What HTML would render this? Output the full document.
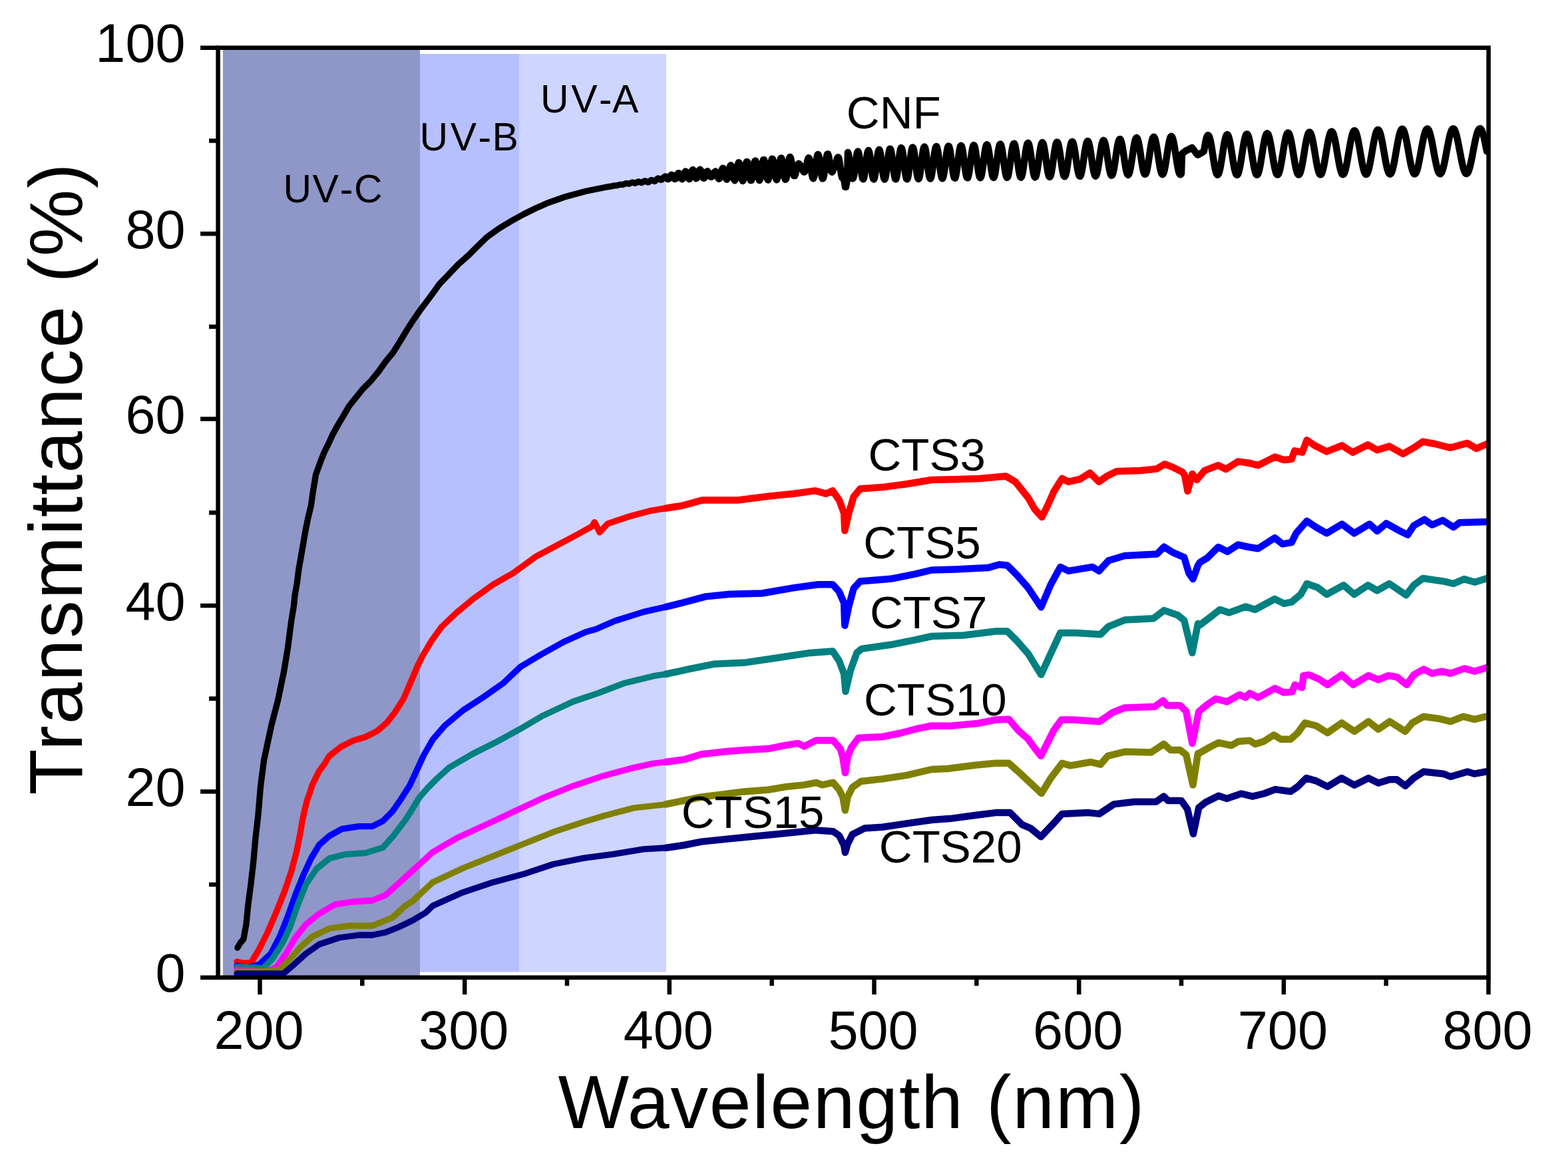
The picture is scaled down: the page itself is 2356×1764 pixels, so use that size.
<!DOCTYPE html><html><head><meta charset="utf-8"><style>html,body{margin:0;padding:0;background:#fff;}svg{display:block;}text{font-family:"Liberation Sans",Arial,sans-serif;fill:#000;}</style></head><body>
<svg width="2356" height="1764" viewBox="0 0 2356 1764">
<rect width="2356" height="1764" fill="#fff"/>
<rect x="335" y="75" width="296.0" height="1391.0" fill="#8F96C8"/>
<rect x="631" y="81" width="149.0" height="1379.5" fill="#B7C0FE"/>
<rect x="780" y="81" width="221.0" height="1379.5" fill="#CED5FE"/>
<path d="M356.9 1424.0 L361.0 1417.0 L365.9 1411.0 L369.9 1389.0 L372.9 1359.0 L376.9 1329.0 L380.9 1293.5 L383.9 1259.6 L387.8 1225.7 L391.7 1180.0 L396.6 1142.2 L408.0 1089.0 L417.5 1052.8 L426.5 1009.4 L432.5 973.2 L437.5 934.5 L441.5 910.0 L443.0 894.6 L446.4 875.3 L448.8 855.9 L452.2 836.6 L455.6 817.3 L458.9 798.0 L462.8 778.6 L467.4 759.6 L470.2 739.5 L474.6 712.8 L481.9 692.8 L487.2 679.5 L493.9 666.2 L499.2 654.3 L507.1 639.7 L515.1 626.4 L524.4 610.4 L535.0 597.1 L545.7 583.9 L557.6 571.9 L568.6 558.5 L579.6 543.0 L590.4 530.0 L601.3 512.6 L611.1 496.3 L620.9 481.1 L630.7 467.0 L640.4 453.9 L650.2 440.9 L660.5 426.5 L674.1 412.6 L688.3 397.5 L704.6 383.0 L715.0 372.5 L731.4 356.5 L749.5 343.5 L767.5 332.5 L785.6 322.5 L803.7 313.5 L821.8 305.4 L839.9 299.0 L850.0 295.4 L880.4 287.3 L913.0 280.8 L914.0 280.6 L915.0 280.4 L916.0 280.3 L917.0 280.2 L918.0 280.1 L919.0 279.9 L920.0 279.6 L921.0 279.3 L922.0 279.1 L923.0 278.9 L924.0 278.9 L925.0 278.9 L926.0 278.8 L927.0 278.7 L928.0 278.5 L929.0 278.1 L930.0 277.7 L931.0 277.4 L932.0 277.2 L933.0 277.3 L934.0 277.4 L935.0 277.5 L936.0 277.4 L937.0 277.1 L938.0 276.6 L939.0 276.1 L940.0 275.7 L941.0 275.5 L942.0 275.6 L943.0 275.8 L944.0 276.1 L945.0 276.1 L946.0 275.8 L947.0 275.3 L948.0 274.8 L949.0 274.3 L950.0 274.1 L951.0 274.2 L952.0 274.6 L953.0 275.0 L954.0 275.3 L955.0 275.2 L956.0 274.7 L957.0 274.1 L958.0 273.4 L959.0 273.0 L960.0 273.0 L961.0 273.4 L962.0 273.9 L963.0 274.4 L964.0 274.6 L965.0 274.3 L966.0 273.6 L967.0 272.8 L968.0 272.1 L969.0 271.8 L970.0 272.0 L971.0 272.6 L972.0 273.3 L973.0 273.8 L974.0 273.8 L975.0 273.3 L976.0 272.5 L977.0 271.5 L978.0 270.8 L979.0 270.5 L980.0 270.7 L981.0 271.3 L982.0 272.0 L983.0 272.4 L984.0 272.3 L985.0 271.5 L986.0 270.4 L987.0 269.1 L988.0 268.2 L989.0 267.9 L990.0 268.2 L991.0 269.0 L992.0 269.8 L993.0 270.3 L994.0 270.2 L995.0 269.4 L996.0 268.1 L997.0 266.7 L998.0 265.7 L999.0 265.3 L1000.0 265.6" fill="none" stroke="#000000" stroke-width="9.3" stroke-linejoin="round" stroke-linecap="round"/>
<path d="M1000.0 265.6 L1001.0 266.5 L1002.0 267.7 L1003.0 268.7 L1004.0 269.0 L1005.0 268.4 L1006.0 267.0 L1007.0 265.1 L1008.0 263.6 L1009.0 262.8 L1010.0 263.1 L1011.0 264.5 L1012.0 266.4 L1013.0 268.2 L1014.0 269.0 L1015.0 268.6 L1016.0 267.0 L1017.0 264.5 L1018.0 262.1 L1019.0 260.5 L1020.0 260.3 L1021.0 261.7 L1022.0 264.1 L1023.0 266.7 L1024.0 268.6 L1025.0 269.1 L1026.0 267.8 L1027.0 265.1 L1028.0 261.8 L1029.0 259.0 L1030.0 257.7 L1031.0 258.2 L1032.0 260.5 L1033.0 263.8 L1034.0 267.0 L1035.0 268.9 L1036.0 268.9 L1037.0 266.8 L1038.0 263.2 L1039.0 259.3 L1040.0 256.2 L1041.0 255.1 L1042.0 256.3 L1043.0 259.3 L1044.0 263.0 L1045.0 266.3 L1046.0 268.0 L1047.0 267.6 L1048.0 265.3 L1049.0 261.7 L1050.0 258.0 L1051.0 255.5 L1052.0 254.8 L1053.0 256.1 L1054.0 258.9 L1055.0 262.5 L1056.0 265.7 L1057.0 267.6 L1058.0 267.7 L1059.0 266.0 L1060.0 263.1 L1061.0 260.0 L1062.0 257.9 L1063.0 257.4 L1064.0 258.3 L1065.0 260.3 L1066.0 262.6 L1067.0 264.6 L1068.0 265.7 L1069.0 265.7 L1070.0 265.0 L1071.0 263.9 L1072.0 262.1 L1073.0 260.1 L1074.0 258.4 L1075.0 257.7 L1076.0 258.5 L1077.0 260.7 L1078.0 263.8 L1079.0 266.7 L1080.0 268.6 L1081.0 268.3 L1082.0 266.0 L1083.0 262.2 L1084.0 258.0 L1085.0 254.5 L1086.0 252.7 L1087.0 253.2 L1088.0 255.9 L1089.0 260.0 L1090.0 264.5 L1091.0 268.1 L1092.0 269.6 L1093.0 268.4 L1094.0 264.9 L1095.0 259.7 L1096.0 254.2 L1097.0 250.0 L1098.0 248.3 L1099.0 249.5 L1100.0 253.4 L1101.0 259.1 L1102.0 265.0 L1103.0 269.5 L1104.0 271.2 L1105.0 269.5 L1106.0 264.9 L1107.0 258.3 L1108.0 251.5 L1109.0 246.4 L1110.0 244.2 L1111.0 245.9 L1112.0 250.8 L1113.0 257.6 L1114.0 264.5 L1115.0 269.7 L1116.0 271.9 L1117.0 270.4 L1118.0 265.7 L1119.0 258.8 L1120.0 251.6 L1121.0 245.8 L1122.0 242.9 L1123.0 243.7 L1124.0 247.8 L1125.0 254.3 L1126.0 261.5 L1127.0 267.6 L1128.0 271.0 L1129.0 270.9 L1130.0 267.2 L1131.0 260.9 L1132.0 253.5 L1133.0 246.8 L1134.0 242.4 L1135.0 241.4 L1136.0 244.0 L1137.0 249.5 L1138.0 256.7 L1139.0 263.7 L1140.0 268.8 L1141.0 270.9 L1142.0 269.3 L1143.0 264.4 L1144.0 257.4 L1145.0 250.0 L1146.0 243.7 L1147.0 240.2 L1148.0 240.3 L1149.0 243.8 L1150.0 250.0 L1151.0 257.4 L1152.0 264.2 L1153.0 268.9 L1154.0 270.4 L1155.0 268.2 L1156.0 263.0 L1157.0 255.8 L1158.0 248.2 L1159.0 242.1 L1160.0 238.8 L1161.0 239.0 L1162.0 242.7 L1163.0 249.0 L1164.0 256.5 L1165.0 263.5 L1166.0 268.4 L1167.0 270.2 L1168.0 268.3 L1169.0 263.2 L1170.0 256.1 L1171.0 248.4 L1172.0 241.9 L1173.0 237.9 L1174.0 237.4 L1175.0 240.4 L1176.0 246.3 L1177.0 253.7 L1178.0 261.1 L1179.0 266.9 L1180.0 269.7 L1181.0 269.0 L1182.0 264.9 L1183.0 258.3 L1184.0 250.5 L1185.0 243.2 L1186.0 238.0 L1187.0 235.8 L1188.0 237.3 L1189.0 242.5 L1190.0 249.3 L1191.0 256.0 L1192.0 261.2 L1193.0 264.0 L1194.0 264.1 L1195.0 261.8 L1196.0 258.0 L1197.0 253.6 L1198.0 249.7 L1199.0 247.0 L1200.0 245.9 L1201.0 246.3 L1202.0 247.8 L1203.0 249.7 L1204.0 251.4 L1205.0 253.0 L1206.0 255.2 L1207.0 257.2 L1208.0 258.5 L1209.0 258.2 L1210.0 256.2 L1211.0 252.5 L1212.0 247.7 L1213.0 242.8 L1214.0 238.9 L1215.0 237.2 L1216.0 238.2 L1217.0 242.2 L1218.0 248.5 L1219.0 256.0 L1220.0 262.5 L1221.0 266.8 L1222.0 268.2 L1223.0 266.1 L1224.0 261.1 L1225.0 254.0 L1226.0 246.1 L1227.0 239.0 L1228.0 233.9 L1229.0 231.9 L1230.0 233.3 L1231.0 237.9 L1232.0 244.9 L1233.0 252.9 L1234.0 260.5 L1235.0 266.0 L1236.0 268.5 L1237.0 267.6 L1238.0 263.5 L1239.0 256.9 L1240.0 249.0 L1241.0 241.3 L1242.0 235.2 L1243.0 231.7 L1244.0 231.5 L1245.0 234.4 L1246.0 240.0 L1247.0 247.3 L1248.0 253.5 L1249.0 257.4 L1250.0 258.6 L1251.0 257.6 L1252.0 255.1 L1253.0 252.1 L1254.0 249.8 L1255.0 248.3 L1256.0 245.2 L1257.0 241.4 L1258.0 238.0 L1259.0 236.2 L1260.0 236.9 L1261.0 240.7 L1262.0 247.3 L1263.0 255.1 L1264.0 261.8 L1265.0 266.4 L1266.0 267.9 L1267.0 266.2 L1268.0 269.0 L1269.0 275.0 L1270.0 281.0 L1271.0 281.0 L1272.0 275.0 L1273.0 269.0 L1274.0 229.0 L1275.0 231.9 L1276.0 237.6 L1277.0 245.1 L1278.0 253.2 L1279.0 260.6 L1280.0 266.0 L1281.0 268.5 L1282.0 267.8 L1283.0 263.9 L1284.0 257.4 L1285.0 249.5 L1286.0 241.3 L1287.0 234.2 L1288.0 229.3 L1289.0 227.4 L1290.0 228.9 L1291.0 233.4 L1292.0 240.4 L1293.0 248.5 L1294.0 256.7 L1295.0 263.6 L1296.0 268.0 L1297.0 269.3 L1298.0 267.3 L1299.0 262.3 L1300.0 255.0 L1301.0 246.6 L1302.0 238.4 L1303.0 231.6 L1304.0 227.3 L1305.0 226.1 L1306.0 228.3 L1307.0 233.5 L1308.0 240.8 L1309.0 249.2 L1310.0 257.4 L1311.0 264.1 L1312.0 268.3 L1313.0 269.5 L1314.0 267.3 L1315.0 262.1 L1316.0 254.7 L1317.0 246.2 L1318.0 237.8 L1319.0 230.8 L1320.0 226.3 L1321.0 224.8 L1322.0 226.5 L1323.0 231.3 L1324.0 238.5 L1325.0 246.8 L1326.0 255.3 L1327.0 262.5 L1328.0 267.5 L1329.0 269.5 L1330.0 268.2 L1331.0 263.9 L1332.0 257.0 L1333.0 248.7 L1334.0 240.1 L1335.0 232.3 L1336.0 226.6 L1337.0 223.7 L1338.0 223.9 L1339.0 227.4 L1340.0 233.5 L1341.0 241.5 L1342.0 250.1 L1343.0 258.2 L1344.0 264.7 L1345.0 268.6 L1346.0 269.4 L1347.0 267.0 L1348.0 261.7 L1349.0 254.2 L1350.0 245.6 L1351.0 237.0 L1352.0 229.6 L1353.0 224.4 L1354.0 222.1 L1355.0 223.0 L1356.0 226.9 L1357.0 233.4 L1358.0 241.6 L1359.0 250.3 L1360.0 258.4 L1361.0 264.8 L1362.0 268.6 L1363.0 269.3 L1364.0 266.9 L1365.0 261.7 L1366.0 254.3 L1367.0 245.7 L1368.0 237.1 L1369.0 229.6 L1370.0 224.1 L1371.0 221.4 L1372.0 221.7 L1373.0 225.1 L1374.0 231.1 L1375.0 238.8 L1376.0 247.4 L1377.0 255.7 L1378.0 262.6 L1379.0 267.2 L1380.0 269.0 L1381.0 267.8 L1382.0 263.7 L1383.0 257.2 L1384.0 249.2 L1385.0 240.6 L1386.0 232.5 L1387.0 226.0 L1388.0 221.9 L1389.0 220.5 L1390.0 222.2 L1391.0 226.7 L1392.0 233.3 L1393.0 241.4 L1394.0 249.8 L1395.0 257.6 L1396.0 263.8 L1397.0 267.6 L1398.0 268.6 L1399.0 266.7 L1400.0 262.1 L1401.0 255.4 L1402.0 247.3 L1403.0 238.9 L1404.0 231.1 L1405.0 224.9 L1406.0 221.1 L1407.0 220.0 L1408.0 221.7 L1409.0 226.1 L1410.0 232.7 L1411.0 240.6 L1412.0 248.8 L1413.0 256.6 L1414.0 262.8 L1415.0 266.9 L1416.0 268.3 L1417.0 266.8 L1418.0 262.7 L1419.0 256.5 L1420.0 248.8 L1421.0 240.5 L1422.0 232.6 L1423.0 226.0 L1424.0 221.4 L1425.0 219.4 L1426.0 220.1 L1427.0 223.5 L1428.0 229.2 L1429.0 236.5 L1430.0 244.6 L1431.0 252.5 L1432.0 259.5 L1433.0 264.6 L1434.0 267.4 L1435.0 267.6 L1436.0 265.0 L1437.0 260.1 L1438.0 253.3 L1439.0 245.4 L1440.0 237.3 L1441.0 229.9 L1442.0 223.9 L1443.0 220.0 L1444.0 218.7 L1445.0 220.0 L1446.0 223.8 L1447.0 229.8 L1448.0 237.1 L1449.0 245.1 L1450.0 252.8 L1451.0 259.5 L1452.0 264.5 L1453.0 267.1 L1454.0 267.2 L1455.0 264.7 L1456.0 259.9 L1457.0 253.3 L1458.0 245.6 L1459.0 237.6 L1460.0 230.1 L1461.0 224.0 L1462.0 219.8 L1463.0 218.0 L1464.0 218.8 L1465.0 222.0 L1466.0 227.4 L1467.0 234.3 L1468.0 242.1 L1469.0 249.9 L1470.0 257.0 L1471.0 262.6 L1472.0 266.1 L1473.0 267.3 L1474.0 265.9 L1475.0 262.1 L1476.0 256.4 L1477.0 249.2 L1478.0 241.3 L1479.0 233.6 L1480.0 226.7 L1481.0 221.3 L1482.0 218.1 L1483.0 217.2 L1484.0 218.8 L1485.0 222.7 L1486.0 228.6 L1487.0 235.7 L1488.0 243.5 L1489.0 251.2 L1490.0 257.9 L1491.0 263.1 L1492.0 266.2 L1493.0 267.0 L1494.0 265.4 L1495.0 261.5 L1496.0 255.7 L1497.0 248.5 L1498.0 240.8 L1499.0 233.1 L1500.0 226.2 L1501.0 220.9 L1502.0 217.5 L1503.0 216.4 L1504.0 217.7 L1505.0 221.3 L1506.0 226.7 L1507.0 233.6 L1508.0 241.3 L1509.0 248.9 L1510.0 255.9 L1511.0 261.5 L1512.0 265.3 L1513.0 266.8 L1514.0 266.0 L1515.0 263.0 L1516.0 257.9 L1517.0 251.4 L1518.0 243.9 L1519.0 236.1 L1520.0 228.9 L1521.0 222.7 L1522.0 218.3 L1523.0 215.9 L1524.0 215.8 L1525.0 218.0 L1526.0 222.3 L1527.0 228.2 L1528.0 235.3 L1529.0 243.0 L1530.0 250.4 L1531.0 257.0 L1532.0 262.2 L1533.0 265.5 L1534.0 266.7 L1535.0 265.5 L1536.0 262.2 L1537.0 257.0 L1538.0 250.4 L1539.0 243.0 L1540.0 235.3 L1541.0 228.2 L1542.0 222.1 L1543.0 217.6 L1544.0 215.2 L1545.0 214.9 L1546.0 216.8 L1547.0 220.8 L1548.0 226.5 L1549.0 233.3 L1550.0 240.8 L1551.0 248.3 L1552.0 255.1 L1553.0 260.6 L1554.0 264.5 L1555.0 266.3 L1556.0 265.9 L1557.0 263.4 L1558.0 258.9 L1559.0 252.9 L1560.0 245.9 L1561.0 238.4 L1562.0 231.0 L1563.0 224.4 L1564.0 219.1 L1565.0 215.6 L1566.0 214.1 L1567.0 214.7 L1568.0 217.4 L1569.0 221.9 L1570.0 227.9 L1571.0 234.9 L1572.0 242.3 L1573.0 249.5 L1574.0 255.9 L1575.0 261.1 L1576.0 264.5 L1577.0 265.9 L1578.0 265.3 L1579.0 262.6 L1580.0 258.1 L1581.0 252.1 L1582.0 245.2 L1583.0 237.8 L1584.0 230.6 L1585.0 224.1 L1586.0 218.8 L1587.0 215.2 L1588.0 213.5 L1589.0 213.8 L1590.0 216.1 L1591.0 220.2 L1592.0 225.9 L1593.0 232.5 L1594.0 239.8 L1595.0 246.9 L1596.0 253.5 L1597.0 259.0 L1598.0 263.0 L1599.0 265.2 L1600.0 265.3 L1601.0 263.5 L1602.0 259.9 L1603.0 254.7 L1604.0 248.3 L1605.0 241.2 L1606.0 234.0 L1607.0 227.2 L1608.0 221.2 L1609.0 216.6 L1610.0 213.7 L1611.0 212.7 L1612.0 213.6 L1613.0 216.4 L1614.0 220.8 L1615.0 226.6 L1616.0 233.3 L1617.0 240.4 L1618.0 247.4 L1619.0 253.7 L1620.0 259.0 L1621.0 262.7 L1622.0 264.7 L1623.0 264.9 L1624.0 263.1 L1625.0 259.6 L1626.0 254.5 L1627.0 248.3 L1628.0 241.4 L1629.0 234.3 L1630.0 227.6 L1631.0 221.6 L1632.0 216.8 L1633.0 213.5 L1634.0 212.1 L1635.0 212.4 L1636.0 214.7 L1637.0 218.5 L1638.0 223.8 L1639.0 230.1 L1640.0 237.0 L1641.0 243.9 L1642.0 250.4 L1643.0 256.1 L1644.0 260.6 L1645.0 263.4 L1646.0 264.6 L1647.0 263.9 L1648.0 261.4 L1649.0 257.3 L1650.0 251.9 L1651.0 245.6 L1652.0 238.7 L1653.0 231.7 L1654.0 225.2 L1655.0 219.5 L1656.0 215.0 L1657.0 212.1 L1658.0 210.9 L1659.0 211.5 L1660.0 213.8 L1661.0 217.7 L1662.0 222.9 L1663.0 229.1 L1664.0 235.9 L1665.0 242.7 L1666.0 249.2 L1667.0 254.8 L1668.0 259.3 L1669.0 262.4 L1670.0 263.7 L1671.0 263.3 L1672.0 261.2 L1673.0 257.4 L1674.0 252.3 L1675.0 246.2 L1676.0 239.5 L1677.0 232.5 L1678.0 225.9 L1679.0 219.8 L1680.0 214.9 L1681.0 211.3 L1682.0 209.3 L1683.0 209.0 L1684.0 210.5 L1685.0 213.6 L1686.0 218.1 L1687.0 223.7 L1688.0 230.2 L1689.0 236.9 L1690.0 243.7 L1691.0 249.9 L1692.0 255.2 L1693.0 259.3 L1694.0 261.9 L1695.0 262.9 L1696.0 262.1 L1697.0 259.7 L1698.0 255.8 L1699.0 250.6 L1700.0 244.5 L1701.0 237.7 L1702.0 230.9 L1703.0 224.2 L1704.0 218.2 L1705.0 213.3 L1706.0 209.6 L1707.0 207.5 L1708.0 207.0 L1709.0 208.2 L1710.0 211.0 L1711.0 215.3 L1712.0 220.6 L1713.0 226.9 L1714.0 233.6 L1715.0 240.3 L1716.0 246.7 L1717.0 252.3 L1718.0 256.9 L1719.0 260.1 L1720.0 261.8 L1721.0 261.8 L1722.0 260.3 L1723.0 257.2 L1724.0 252.7 L1725.0 247.1 L1726.0 240.7 L1727.0 234.0 L1728.0 227.2 L1729.0 220.9 L1730.0 215.2 L1731.0 210.7 L1732.0 207.5 L1733.0 205.8 L1734.0 205.8 L1735.0 207.3 L1736.0 210.4 L1737.0 214.8 L1738.0 220.3 L1739.0 226.6 L1740.0 233.2 L1741.0 240.0 L1742.0 246.3 L1743.0 252.0 L1744.0 256.6 L1745.0 260.0 L1746.0 261.8 L1747.0 262.1 L1748.0 260.8 L1749.0 258.0 L1750.0 253.8 L1751.0 248.5 L1752.0 242.4 L1753.0 235.8 L1754.0 229.1 L1755.0 222.6 L1756.0 216.7 L1757.0 211.7 L1758.0 208.0 L1759.0 205.6 L1760.0 204.8 L1761.0 205.5 L1762.0 207.8 L1763.0 211.4 L1764.0 216.3 L1765.0 222.1 L1766.0 228.5 L1767.0 235.2 L1768.0 241.7 L1769.0 247.9 L1770.0 253.3 L1771.0 257.6 L1772.0 260.6 L1773.0 262.2 L1774.0 262.2 L1775.0 260.8 L1776.0 231.0 L1777.0 230.2 L1778.0 229.4 L1779.0 228.6 L1780.0 227.8 L1781.0 227.0 L1782.0 226.5 L1783.0 226.0 L1784.0 225.5 L1785.0 225.0 L1786.0 224.5 L1787.0 224.0 L1788.0 223.5 L1789.0 223.0 L1790.0 222.5 L1791.0 222.0 L1792.0 223.3 L1793.0 224.6 L1794.0 225.8 L1795.0 227.1 L1796.0 228.4 L1797.0 229.7 L1798.0 231.0 L1799.0 232.2 L1800.0 232.8 L1801.0 232.2 L1802.0 231.6 L1803.0 231.0 L1804.0 230.4 L1805.0 229.8 L1806.0 229.2 L1807.0 228.6 L1808.0 228.0 L1809.0 227.3 L1810.0 221.0 L1811.0 215.2 L1812.0 210.4 L1813.0 206.6 L1814.0 204.2 L1815.0 203.1 L1816.0 203.5 L1817.0 205.4 L1818.0 208.5 L1819.0 212.9 L1820.0 218.2 L1821.0 224.3 L1822.0 230.7 L1823.0 237.3 L1824.0 243.7 L1825.0 249.5 L1826.0 254.5 L1827.0 258.5 L1828.0 261.3 L1829.0 262.7 L1830.0 262.7 L1831.0 261.2 L1832.0 258.4 L1833.0 254.4 L1834.0 249.4 L1835.0 243.5 L1836.0 237.2 L1837.0 230.7 L1838.0 224.2 L1839.0 218.1 L1840.0 212.7 L1841.0 208.3 L1842.0 204.9 L1843.0 202.9 L1844.0 202.2 L1845.0 202.9 L1846.0 205.0 L1847.0 208.4 L1848.0 212.8 L1849.0 218.2 L1850.0 224.3 L1851.0 230.7 L1852.0 237.2 L1853.0 243.4 L1854.0 249.2 L1855.0 254.2 L1856.0 258.3 L1857.0 261.1 L1858.0 262.7 L1859.0 262.9 L1860.0 261.7 L1861.0 259.2 L1862.0 255.5 L1863.0 250.8 L1864.0 245.3 L1865.0 239.1 L1866.0 232.7 L1867.0 226.2 L1868.0 220.0 L1869.0 214.4 L1870.0 209.5 L1871.0 205.7 L1872.0 202.9 L1873.0 201.5 L1874.0 201.4 L1875.0 202.7 L1876.0 205.2 L1877.0 208.9 L1878.0 213.6 L1879.0 219.1 L1880.0 225.2 L1881.0 231.5 L1882.0 237.9 L1883.0 244.0 L1884.0 249.6 L1885.0 254.4 L1886.0 258.3 L1887.0 261.1 L1888.0 262.6 L1889.0 262.8 L1890.0 261.7 L1891.0 259.3 L1892.0 255.8 L1893.0 251.2 L1894.0 245.9 L1895.0 239.9 L1896.0 233.6 L1897.0 227.2 L1898.0 221.0 L1899.0 215.3 L1900.0 210.2 L1901.0 206.1 L1902.0 203.0 L1903.0 201.0 L1904.0 200.4 L1905.0 201.0 L1906.0 202.9 L1907.0 206.0 L1908.0 210.1 L1909.0 215.1 L1910.0 220.7 L1911.0 226.8 L1912.0 233.1 L1913.0 239.4 L1914.0 245.3 L1915.0 250.6 L1916.0 255.2 L1917.0 258.8 L1918.0 261.3 L1919.0 262.6 L1920.0 262.6 L1921.0 261.4 L1922.0 259.0 L1923.0 255.5 L1924.0 251.0 L1925.0 245.8 L1926.0 239.9 L1927.0 233.8 L1928.0 227.5 L1929.0 221.3 L1930.0 215.6 L1931.0 210.5 L1932.0 206.1 L1933.0 202.8 L1934.0 200.6 L1935.0 199.5 L1936.0 199.7 L1937.0 201.1 L1938.0 203.7 L1939.0 207.3 L1940.0 211.8 L1941.0 217.1 L1942.0 222.9 L1943.0 229.0 L1944.0 235.2 L1945.0 241.3 L1946.0 246.9 L1947.0 251.9 L1948.0 256.1 L1949.0 259.4 L1950.0 261.6 L1951.0 262.6 L1952.0 262.4 L1953.0 261.0 L1954.0 258.5 L1955.0 254.9 L1956.0 250.5 L1957.0 245.3 L1958.0 239.5 L1959.0 233.4 L1960.0 227.2 L1961.0 221.2 L1962.0 215.5 L1963.0 210.3 L1964.0 205.9 L1965.0 202.5 L1966.0 200.0 L1967.0 198.7 L1968.0 198.6 L1969.0 199.6 L1970.0 201.7 L1971.0 204.9 L1972.0 209.1 L1973.0 214.0 L1974.0 219.5 L1975.0 225.4 L1976.0 231.5 L1977.0 237.5 L1978.0 243.3 L1979.0 248.7 L1980.0 253.3 L1981.0 257.2 L1982.0 260.0 L1983.0 261.9 L1984.0 262.5 L1985.0 262.1 L1986.0 260.5 L1987.0 257.8 L1988.0 254.2 L1989.0 249.7 L1990.0 244.5 L1991.0 238.8 L1992.0 232.9 L1993.0 226.8 L1994.0 220.8 L1995.0 215.2 L1996.0 210.0 L1997.0 205.6 L1998.0 202.1 L1999.0 199.5 L2000.0 197.9 L2001.0 197.5 L2002.0 198.2 L2003.0 199.9 L2004.0 202.8 L2005.0 206.5 L2006.0 211.0 L2007.0 216.2 L2008.0 221.9 L2009.0 227.8 L2010.0 233.8 L2011.0 239.7 L2012.0 245.2 L2013.0 250.2 L2014.0 254.5 L2015.0 258.0 L2016.0 260.5 L2017.0 262.0 L2018.0 262.3 L2019.0 261.6 L2020.0 259.9 L2021.0 257.1 L2022.0 253.4 L2023.0 248.9 L2024.0 243.7 L2025.0 238.1 L2026.0 232.2 L2027.0 226.2 L2028.0 220.3 L2029.0 214.7 L2030.0 209.6 L2031.0 205.1 L2032.0 201.4 L2033.0 198.7 L2034.0 196.9 L2035.0 196.2 L2036.0 196.5 L2037.0 197.9 L2038.0 200.4 L2039.0 203.7 L2040.0 207.9 L2041.0 212.8 L2042.0 218.1 L2043.0 223.9 L2044.0 229.8 L2045.0 235.6 L2046.0 241.3 L2047.0 246.6 L2048.0 251.3 L2049.0 255.3 L2050.0 258.4 L2051.0 260.6 L2052.0 261.8 L2053.0 262.0 L2054.0 261.1 L2055.0 259.3 L2056.0 256.4 L2057.0 252.7 L2058.0 248.2 L2059.0 243.1 L2060.0 237.6 L2061.0 231.8 L2062.0 225.9 L2063.0 220.1 L2064.0 214.5 L2065.0 209.4 L2066.0 204.8 L2067.0 201.0 L2068.0 198.0 L2069.0 196.0 L2070.0 195.0 L2071.0 194.9 L2072.0 195.9 L2073.0 197.9 L2074.0 200.8 L2075.0 204.6 L2076.0 209.0 L2077.0 214.1 L2078.0 219.6 L2079.0 225.3 L2080.0 231.1 L2081.0 236.8 L2082.0 242.3 L2083.0 247.4 L2084.0 251.8 L2085.0 255.6 L2086.0 258.5 L2087.0 260.6 L2088.0 261.6 L2089.0 261.7 L2090.0 260.8 L2091.0 258.9 L2092.0 256.1 L2093.0 252.4 L2094.0 248.1 L2095.0 243.1 L2096.0 237.7 L2097.0 232.0 L2098.0 226.2 L2099.0 220.4 L2100.0 214.9 L2101.0 209.7 L2102.0 205.1 L2103.0 201.1 L2104.0 197.9 L2105.0 195.5 L2106.0 194.1 L2107.0 193.7 L2108.0 194.2 L2109.0 195.7 L2110.0 198.1 L2111.0 201.3 L2112.0 205.3 L2113.0 209.9 L2114.0 215.0 L2115.0 220.5 L2116.0 226.1 L2117.0 231.8 L2118.0 237.4 L2119.0 242.7 L2120.0 247.6 L2121.0 251.9 L2122.0 255.5 L2123.0 258.3 L2124.0 260.3 L2125.0 261.4 L2126.0 261.5 L2127.0 260.7 L2128.0 259.0 L2129.0 256.3 L2130.0 253.0 L2131.0 248.9 L2132.0 244.2 L2133.0 239.0 L2134.0 233.6 L2135.0 228.0 L2136.0 222.4 L2137.0 216.9 L2138.0 211.7 L2139.0 207.0 L2140.0 202.8 L2141.0 199.3 L2142.0 196.6 L2143.0 194.7 L2144.0 193.7 L2145.0 193.5 L2146.0 194.3 L2147.0 196.0 L2148.0 198.6 L2149.0 201.9 L2150.0 205.9 L2151.0 210.4 L2152.0 215.4 L2153.0 220.7 L2154.0 226.2 L2155.0 231.8 L2156.0 237.2 L2157.0 242.3 L2158.0 247.0 L2159.0 251.3 L2160.0 254.9 L2161.0 257.7 L2162.0 259.8 L2163.0 261.0 L2164.0 261.4 L2165.0 260.8 L2166.0 259.4 L2167.0 257.2 L2168.0 254.2 L2169.0 250.5 L2170.0 246.2 L2171.0 241.4 L2172.0 236.3 L2173.0 230.9 L2174.0 225.5 L2175.0 220.1 L2176.0 214.9 L2177.0 210.0 L2178.0 205.5 L2179.0 201.7 L2180.0 198.4 L2181.0 195.9 L2182.0 194.3 L2183.0 193.4 L2184.0 193.4 L2185.0 194.2 L2186.0 195.9 L2187.0 198.4 L2188.0 201.6 L2189.0 205.4 L2190.0 209.8 L2191.0 214.6 L2192.0 219.7 L2193.0 225.0 L2194.0 230.3 L2195.0 235.6 L2196.0 240.6 L2197.0 245.4 L2198.0 249.6 L2199.0 253.4 L2200.0 256.4 L2201.0 258.8 L2202.0 260.3 L2203.0 261.1 L2204.0 261.0 L2205.0 260.2 L2206.0 258.5 L2207.0 256.0 L2208.0 252.9 L2209.0 249.1 L2210.0 244.8 L2211.0 240.1 L2212.0 235.1 L2213.0 229.8 L2214.0 224.6 L2215.0 219.4 L2216.0 214.3 L2217.0 209.6 L2218.0 205.4 L2219.0 201.6 L2220.0 198.4 L2221.0 196.0 L2222.0 194.2 L2223.0 193.3 L2224.0 193.1 L2225.0 193.8 L2226.0 195.2 L2227.0 197.4 L2228.0 200.2 L2229.0 203.7 L2230.0 207.8 L2231.0 212.3 L2232.0 217.1 L2233.0 222.2 L2234.0 227.3" fill="none" stroke="#000000" stroke-width="10.5" stroke-linejoin="round" stroke-linecap="round"/>
<path d="M356.0 1445.0 L364.0 1447.0 L377.0 1447.0 L389.0 1427.0 L402.5 1400.0 L415.7 1369.0 L427.7 1339.0 L437.7 1309.5 L445.6 1279.6 L451.6 1249.7 L454.5 1232.0 L457.6 1218.0 L461.7 1201.7 L465.6 1191.0 L469.0 1180.0 L475.5 1166.5 L479.8 1158.2 L487.5 1148.0 L494.3 1136.5 L512.5 1122.0 L530.6 1112.9 L548.7 1107.5 L566.8 1098.4 L581.3 1085.8 L594.0 1069.5 L606.6 1049.5 L617.5 1024.2 L626.6 1002.4 L635.6 984.3 L648.3 963.0 L663.4 942.0 L685.1 921.4 L711.1 899.7 L741.5 878.0 L771.9 860.6 L804.5 836.7 L837.0 819.4 L869.6 802.0 L889.1 791.1 L893.4 784.6 L901.0 799.8 L913.0 786.8 L945.5 776.0 L978.1 767.3 L1000.0 763.7" fill="none" stroke="#FF0000" stroke-width="9.3" stroke-linejoin="round" stroke-linecap="round"/>
<path d="M1000.0 763.7 L1010.6 762.0 L1024.2 760.0 L1055.6 751.4 L1064.9 751.5 L1108.7 751.5 L1157.0 745.4 L1193.2 741.8 L1224.6 737.4 L1241.5 741.8 L1251.2 737.4 L1260.9 751.4 L1268.1 770.8 L1269.3 797.3 L1275.4 770.8 L1282.6 746.6 L1292.3 734.5 L1326.1 732.1 L1362.3 727.3 L1400.0 721.0 L1436.2 720.2 L1472.5 719.0 L1511.1 715.4 L1525.6 723.9 L1544.9 748.0 L1554.6 764.9 L1565.5 777.0 L1573.9 760.1 L1583.6 738.4 L1595.7 719.0 L1605.3 723.9 L1622.2 720.2 L1637.9 710.6 L1651.2 723.9 L1663.3 715.4 L1677.8 708.2 L1714.0 707.0 L1738.2 704.5 L1750.2 697.3 L1762.3 702.1 L1776.8 709.4 L1780.0 714.0 L1784.5 738.0 L1791.5 712.0 L1798.4 721.0 L1809.8 707.2 L1830.5 699.2 L1842.0 705.0 L1860.3 693.4 L1876.4 695.7 L1890.2 699.2 L1915.4 686.6 L1929.2 691.1 L1940.6 690.0 L1945.2 677.4 L1956.7 679.7 L1963.6 661.3 L1975.1 669.3 L1993.4 678.5 L2016.4 669.3 L2032.4 679.7 L2055.4 668.2 L2069.2 676.2 L2087.5 670.5 L2108.2 682.0 L2124.2 672.8 L2138.0 663.6 L2156.4 667.0 L2179.3 672.8 L2204.6 665.9 L2218.3 673.9 L2234.4 667.0" fill="none" stroke="#FF0000" stroke-width="10.5" stroke-linejoin="round" stroke-linecap="round"/>
<path d="M356.0 1451.0 L370.0 1455.0 L390.0 1449.0 L407.0 1433.0 L420.5 1407.0 L431.7 1379.0 L443.7 1345.0 L455.6 1315.4 L467.6 1289.5 L479.5 1269.6 L495.5 1255.6 L513.4 1245.7 L539.3 1241.7 L559.3 1241.7 L575.2 1233.7 L589.2 1219.8 L603.1 1199.8 L615.7 1180.0 L628.4 1152.8 L637.0 1134.0 L650.2 1111.3 L668.3 1090.2 L695.5 1067.5 L725.7 1047.9 L755.8 1026.8 L782.0 1002.0 L812.0 984.0 L847.0 964.5 L880.4 949.6 L895.6 945.2 L923.8 933.0 L967.2 919.4 L1000.0 912.0" fill="none" stroke="#0000FF" stroke-width="9.3" stroke-linejoin="round" stroke-linecap="round"/>
<path d="M1000.0 912.0 L1024.2 906.0 L1060.4 896.4 L1096.6 892.8 L1144.9 891.5 L1193.2 883.1 L1229.5 878.3 L1251.2 878.3 L1260.9 889.1 L1268.1 906.0 L1269.3 939.9 L1275.4 910.9 L1282.6 884.3 L1292.3 873.4 L1338.2 869.8 L1374.4 862.6 L1400.0 856.5 L1436.2 855.5 L1484.5 853.1 L1501.4 848.3 L1513.5 849.5 L1528.0 864.0 L1544.9 883.3 L1564.3 912.3 L1578.7 878.5 L1593.2 851.9 L1605.3 857.9 L1641.5 851.9 L1651.2 857.9 L1665.7 842.2 L1689.9 835.0 L1738.2 832.6 L1749.0 821.7 L1762.3 830.1 L1779.2 837.4 L1786.5 861.5 L1792.5 870.0 L1800.0 849.5 L1803.0 844.9 L1814.4 838.0 L1830.5 822.0 L1844.3 828.8 L1860.3 818.5 L1876.4 822.0 L1890.2 824.3 L1915.4 808.2 L1926.9 817.4 L1940.6 815.1 L1947.5 801.3 L1963.6 782.9 L1977.4 792.1 L1993.4 801.3 L2016.4 787.5 L2034.7 801.3 L2057.7 787.5 L2069.2 797.9 L2082.9 786.4 L2101.3 796.7 L2115.1 803.6 L2124.2 789.8 L2140.3 780.6 L2151.8 788.7 L2167.8 781.8 L2183.9 792.1 L2193.1 785.2 L2234.4 784.1" fill="none" stroke="#0000FF" stroke-width="10.5" stroke-linejoin="round" stroke-linecap="round"/>
<path d="M356.0 1453.0 L395.0 1455.0 L409.0 1441.0 L424.6 1417.0 L435.7 1393.0 L447.6 1359.0 L459.6 1329.0 L475.5 1305.5 L495.5 1289.5 L519.4 1283.6 L549.3 1281.6 L575.2 1273.6 L591.2 1255.6 L609.1 1232.0 L620.0 1215.0 L630.2 1198.1 L642.9 1183.6 L657.4 1169.1 L675.0 1153.2 L710.6 1132.5 L746.8 1114.3 L780.0 1096.2 L816.2 1075.1 L861.5 1054.0 L897.7 1041.9 L937.0 1026.8 L982.3 1015.7 L1000.0 1013.0" fill="none" stroke="#008080" stroke-width="9.3" stroke-linejoin="round" stroke-linecap="round"/>
<path d="M1000.0 1013.0 L1036.2 1005.1 L1072.5 997.8 L1120.8 995.4 L1169.1 988.2 L1217.4 980.9 L1251.2 978.5 L1260.9 993.0 L1268.1 1012.3 L1270.5 1038.9 L1277.8 1007.5 L1287.4 980.9 L1294.7 974.9 L1338.2 968.8 L1374.4 961.6 L1400.0 956.0 L1448.3 954.5 L1496.6 948.5 L1513.5 948.5 L1528.0 963.0 L1544.9 982.3 L1564.3 1013.7 L1578.7 982.3 L1593.2 950.9 L1617.4 950.9 L1653.6 953.3 L1665.7 941.3 L1689.9 931.6 L1733.3 929.2 L1749.0 917.1 L1769.6 924.3 L1779.2 932.0 L1791.3 981.0 L1800.0 937.0 L1803.0 939.0 L1821.3 925.2 L1832.8 916.0 L1846.6 920.6 L1871.8 911.5 L1885.6 916.0 L1915.4 900.0 L1929.2 906.9 L1940.6 904.6 L1954.4 893.1 L1963.6 877.0 L1979.7 882.8 L1993.4 893.1 L2018.7 879.3 L2034.7 893.1 L2055.4 879.3 L2069.2 887.4 L2087.5 877.0 L2112.8 894.2 L2124.2 879.3 L2138.0 869.0 L2170.1 873.6 L2183.9 877.0 L2200.0 870.1 L2216.0 874.7 L2234.4 869.0" fill="none" stroke="#008080" stroke-width="10.5" stroke-linejoin="round" stroke-linecap="round"/>
<path d="M356.0 1457.0 L399.8 1460.0 L415.7 1453.0 L429.7 1433.0 L443.7 1409.0 L459.6 1389.0 L479.5 1373.0 L503.5 1359.0 L529.4 1355.0 L559.3 1353.0 L579.2 1345.0 L597.1 1329.0 L619.1 1309.0 L650.2 1280.4 L686.4 1259.2 L725.7 1241.1 L771.0 1220.0 L816.2 1198.9 L861.5 1180.8 L906.8 1165.7 L952.1 1153.6 L982.3 1147.0 L1000.0 1145.0" fill="none" stroke="#FF00FF" stroke-width="9.3" stroke-linejoin="round" stroke-linecap="round"/>
<path d="M1000.0 1145.0 L1027.2 1141.4 L1054.3 1133.2 L1087.0 1129.6 L1117.8 1126.9 L1154.0 1125.1 L1181.2 1119.6 L1199.3 1116.9 L1208.3 1121.4 L1226.4 1112.4 L1251.8 1112.4 L1262.7 1125.1 L1266.3 1137.8 L1269.9 1161.3 L1273.6 1137.8 L1279.0 1123.3 L1289.9 1108.8 L1326.1 1107.0 L1353.3 1101.5 L1380.4 1094.3 L1400.0 1090.5 L1427.2 1090.7 L1468.8 1087.0 L1496.0 1081.6 L1515.9 1080.7 L1530.4 1097.9 L1544.9 1110.6 L1554.0 1123.3 L1564.0 1135.9 L1572.1 1119.6 L1583.0 1097.9 L1594.7 1081.6 L1613.8 1081.6 L1651.8 1084.3 L1671.7 1070.7 L1689.9 1063.5 L1735.1 1061.7 L1747.8 1052.6 L1753.3 1059.9 L1773.2 1059.9 L1782.2 1068.9 L1791.5 1117.0 L1801.2 1069.2 L1814.0 1058.6 L1826.7 1050.1 L1843.7 1054.4 L1862.9 1043.7 L1871.4 1048.0 L1877.7 1041.6 L1890.5 1048.0 L1916.0 1034.2 L1928.7 1040.6 L1941.5 1039.5 L1945.7 1028.9 L1956.4 1033.1 L1958.5 1015.1 L1967.0 1014.0 L1981.9 1020.4 L1994.6 1028.9 L2015.9 1014.0 L2032.9 1028.9 L2056.2 1015.1 L2071.1 1021.4 L2086.0 1015.1 L2098.7 1017.2 L2113.6 1028.9 L2124.2 1014.0 L2139.1 1005.5 L2151.8 1011.9 L2166.7 1008.7 L2179.5 1011.9 L2200.7 1004.4 L2215.6 1008.7 L2232.6 1003.4" fill="none" stroke="#FF00FF" stroke-width="10.5" stroke-linejoin="round" stroke-linecap="round"/>
<path d="M356.0 1460.0 L383.9 1460.0 L419.7 1457.0 L435.7 1441.0 L451.6 1423.0 L469.6 1407.0 L495.5 1395.0 L523.4 1391.0 L559.3 1391.0 L589.2 1379.0 L609.1 1361.0 L620.0 1354.0 L650.2 1325.7 L695.5 1304.5 L740.8 1286.4 L786.0 1268.3 L831.3 1250.2 L876.6 1235.1 L906.8 1226.0 L952.1 1214.0 L997.4 1209.0 L1000.0 1208.5" fill="none" stroke="#808000" stroke-width="9.3" stroke-linejoin="round" stroke-linecap="round"/>
<path d="M1000.0 1208.5 L1027.2 1203.0 L1054.3 1197.5 L1090.6 1193.0 L1117.8 1189.4 L1154.0 1186.7 L1181.2 1182.1 L1208.3 1179.4 L1226.4 1175.8 L1235.5 1179.4 L1251.8 1175.8 L1260.9 1186.7 L1266.3 1197.5 L1269.9 1217.5 L1273.6 1197.5 L1280.8 1183.0 L1293.5 1174.0 L1326.1 1170.4 L1362.3 1164.9 L1400.0 1156.0 L1423.6 1155.0 L1467.0 1149.5 L1496.0 1146.8 L1515.9 1146.8 L1534.1 1163.1 L1564.9 1192.1 L1579.3 1168.6 L1595.7 1146.8 L1608.3 1150.4 L1639.1 1145.0 L1653.6 1148.6 L1664.5 1135.9 L1689.9 1129.6 L1729.7 1130.5 L1748.7 1117.8 L1758.7 1126.9 L1773.2 1126.9 L1782.2 1134.1 L1792.5 1179.5 L1800.0 1132.0 L1803.4 1130.9 L1818.2 1122.4 L1831.0 1116.0 L1850.1 1120.2 L1860.7 1113.9 L1877.7 1112.8 L1886.2 1118.1 L1899.0 1113.9 L1913.9 1104.3 L1924.5 1110.7 L1939.4 1110.7 L1950.0 1101.1 L1960.6 1086.2 L1977.6 1090.5 L1994.6 1101.1 L2015.9 1086.2 L2035.0 1099.0 L2056.2 1084.1 L2071.1 1095.8 L2088.1 1084.1 L2111.5 1099.0 L2122.1 1086.2 L2139.1 1076.7 L2162.5 1079.9 L2179.5 1084.1 L2198.6 1076.7 L2215.6 1080.9 L2232.6 1076.7" fill="none" stroke="#808000" stroke-width="10.5" stroke-linejoin="round" stroke-linecap="round"/>
<path d="M356.0 1463.0 L425.7 1463.0 L439.7 1451.0 L459.6 1433.0 L479.5 1419.0 L509.4 1409.0 L539.3 1405.0 L559.3 1405.0 L579.2 1401.0 L599.1 1393.0 L620.0 1383.0 L640.0 1371.0 L650.2 1361.0 L695.5 1340.8 L740.8 1325.7 L786.0 1313.6 L831.3 1298.5 L876.6 1289.4 L921.9 1283.4 L967.2 1275.8 L1000.0 1274.0" fill="none" stroke="#000080" stroke-width="9.3" stroke-linejoin="round" stroke-linecap="round"/>
<path d="M1000.0 1274.0 L1027.2 1270.0 L1054.3 1264.6 L1090.6 1260.9 L1126.8 1257.3 L1163.0 1253.7 L1199.3 1250.1 L1226.4 1247.4 L1251.8 1249.2 L1260.9 1255.5 L1268.1 1270.0 L1269.9 1280.9 L1273.6 1268.2 L1280.8 1253.7 L1298.9 1244.6 L1326.1 1242.8 L1362.3 1237.4 L1400.0 1232.0 L1427.2 1230.1 L1467.0 1224.7 L1496.0 1221.1 L1517.8 1221.1 L1535.9 1239.2 L1548.6 1244.6 L1564.0 1257.3 L1581.2 1239.2 L1595.7 1222.9 L1635.5 1221.1 L1651.8 1222.9 L1673.6 1208.4 L1704.3 1204.8 L1737.0 1204.8 L1748.7 1196.6 L1755.1 1203.0 L1775.0 1203.0 L1784.1 1215.7 L1793.0 1253.0 L1801.2 1213.7 L1811.9 1205.2 L1831.0 1195.7 L1843.7 1199.9 L1865.0 1192.5 L1882.0 1196.7 L1899.0 1192.5 L1916.0 1186.1 L1939.4 1189.3 L1950.0 1181.9 L1962.7 1169.1 L1977.6 1173.4 L1994.6 1181.9 L2015.9 1169.1 L2035.0 1179.7 L2056.2 1169.1 L2071.1 1176.5 L2088.1 1171.2 L2098.7 1171.2 L2111.5 1180.8 L2124.2 1169.1 L2139.1 1159.5 L2168.8 1162.7 L2179.5 1167.0 L2205.0 1159.5 L2215.6 1162.7 L2232.6 1159.5" fill="none" stroke="#000080" stroke-width="10.5" stroke-linejoin="round" stroke-linecap="round"/>
<g stroke="#000" stroke-width="6.5" fill="none" stroke-linecap="butt">
<path d="M327.6 71.8 H2236.6 V1468.8 H327.6 Z"/>
<path d="M301.1 1468.8 H327.6"/>
<path d="M314.1 1329.1 H327.6"/>
<path d="M301.1 1189.4 H327.6"/>
<path d="M314.1 1049.7 H327.6"/>
<path d="M301.1 910.0 H327.6"/>
<path d="M314.1 770.3 H327.6"/>
<path d="M301.1 629.5 H327.6"/>
<path d="M314.1 490.9 H327.6"/>
<path d="M301.1 351.2 H327.6"/>
<path d="M314.1 211.5 H327.6"/>
<path d="M301.1 71.8 H327.6"/>
<path d="M390.5 1468.8 V1494.3"/>
<path d="M544.3 1468.8 V1481.3"/>
<path d="M698.2 1468.8 V1494.3"/>
<path d="M852.0 1468.8 V1481.3"/>
<path d="M1005.8 1468.8 V1494.3"/>
<path d="M1159.7 1468.8 V1481.3"/>
<path d="M1313.5 1468.8 V1494.3"/>
<path d="M1467.3 1468.8 V1481.3"/>
<path d="M1621.2 1468.8 V1494.3"/>
<path d="M1775.0 1468.8 V1481.3"/>
<path d="M1928.9 1468.8 V1494.3"/>
<path d="M2082.7 1468.8 V1481.3"/>
<path d="M2236.5 1468.8 V1494.3"/>
</g>
<text x="278.5" y="1490.4" font-size="81" text-anchor="end">0</text>
<text x="278.5" y="1211.0" font-size="81" text-anchor="end">20</text>
<text x="278.5" y="931.6" font-size="81" text-anchor="end">40</text>
<text x="278.5" y="651.1" font-size="81" text-anchor="end">60</text>
<text x="278.5" y="372.8" font-size="81" text-anchor="end">80</text>
<text x="278.5" y="93.4" font-size="81" text-anchor="end">100</text>
<text x="389.0" y="1575.8" font-size="81" text-anchor="middle">200</text>
<text x="696.7" y="1575.8" font-size="81" text-anchor="middle">300</text>
<text x="1004.3" y="1575.8" font-size="81" text-anchor="middle">400</text>
<text x="1312.0" y="1575.8" font-size="81" text-anchor="middle">500</text>
<text x="1619.7" y="1575.8" font-size="81" text-anchor="middle">600</text>
<text x="1927.4" y="1575.8" font-size="81" text-anchor="middle">700</text>
<text x="2235.0" y="1575.8" font-size="81" text-anchor="middle">800</text>
<text x="838.6" y="1694.5" font-size="113.0" letter-spacing="1.76">Wavelength (nm)</text>
<text transform="translate(122.6 1194.5) rotate(-90)" font-size="113.0" letter-spacing="1.90">Transmittance (%)</text>
<text x="425.6 469.6 510.7 532.0" y="304.3" font-size="59.0">UV-C</text>
<text x="630.5 676.8 718.6 739.5" y="226.3" font-size="59.0">UV-B</text>
<text x="812.0 858.2 900.0 919.9" y="169.3" font-size="59.0">UV-A</text>
<text x="1271.8" y="193.0" font-size="69.0" letter-spacing="0.00">CNF</text>
<text x="1304.5" y="707.0" font-size="69.0" letter-spacing="0.00">CTS3</text>
<text x="1297.2" y="839.0" font-size="69.0" letter-spacing="0.00">CTS5</text>
<text x="1306.9" y="944.0" font-size="69.0" letter-spacing="0.00">CTS7</text>
<text x="1298.0" y="1074.5" font-size="69.0" letter-spacing="0.00">CTS10</text>
<text x="1023.7" y="1244.0" font-size="69.0" letter-spacing="0.00">CTS15</text>
<text x="1320.8" y="1295.6" font-size="69.0" letter-spacing="0.00">CTS20</text>
</svg></body></html>
